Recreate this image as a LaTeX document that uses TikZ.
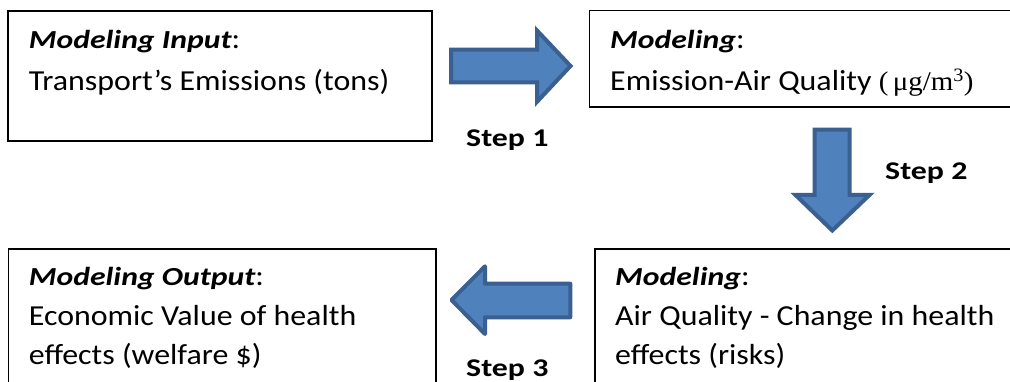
\documentclass[tikz,border=0pt]{standalone}
\usepackage{fontspec}
\setmainfont{Carlito}[FakeStretch=1.1]
\newfontfamily\headfont{Carlito}[FakeStretch=1.22]
\newfontfamily\stepfont{Carlito}[FakeStretch=1.25]
\newfontfamily\unitfont{Liberation Serif}[FakeStretch=1.07]
\newcommand{\headtext}[1]{{\headfont\fontsize{26}{31}\selectfont\bfseries\itshape #1}:}
\begin{document}
\begin{tikzpicture}[x=1pt,y=-1pt,
  box/.style={draw=black,line width=1.6pt,rectangle,anchor=north west,inner sep=0pt,outer sep=0pt},
  txt/.style={anchor=base west,inner sep=0pt,font=\fontsize{29}{34}\selectfont},
  steplabel/.style={anchor=base west,inner sep=0pt,font=\stepfont\fontsize{25.5}{29}\selectfont\bfseries},
  blockarrow/.style={fill=arrowfill,draw=arrowline,line width=4pt}]
\definecolor{arrowfill}{HTML}{4F81BD}
\definecolor{arrowline}{HTML}{3A6091}
\useasboundingbox (0,0) rectangle (1010,382);
\clip (0,0) rectangle (1010,382);
% boxes
\node[box,minimum width=424pt,minimum height=130pt] (b1) at (8,11) {};
\node[box,minimum width=432pt,minimum height=96.6pt] (b2) at (589.3,10.7) {};
\node[box,minimum width=430pt,minimum height=150pt] (b3) at (595,249.3) {};
\node[box,minimum width=427.6pt,minimum height=150pt] (b4) at (8.4,249.3) {};
% texts
\node[txt] (t1a) at (28.7,49) {\headtext{Modeling Input}};
\node[txt] (t1b) at (28.7,90.5) {Transport’s Emissions (tons)};
\node[txt] (t2a) at (610,49) {\headtext{Modeling}};
\node[txt] (t2b) at (610,90.5) {Emission-Air Quality {\unitfont\fontsize{27}{32}\selectfont(\,μg/m\textsuperscript{3})}};
\node[txt] (t3a) at (615,286) {\headtext{Modeling}};
\node[txt] (t3b) at (615,326) {Air Quality - Change in health};
\node[txt] (t3c) at (615,364) {effects (risks)};
\node[txt] (t4a) at (28.7,285.5) {\headtext{Modeling Output}};
\node[txt] (t4b) at (28.7,326) {Economic Value of health};
\node[txt] (t4c) at (28.7,364) {effects (welfare \$)};
% step labels
\node[steplabel] (s1) at (466,146.7) {Step 1};
\node[steplabel] (s2) at (885,180) {Step 2};
\node[steplabel] (s3) at (466,376.7) {Step 3};
% block arrows
\draw[blockarrow] (451,49.7) -- (537,49.7) -- (537,30.5) -- (570.5,66) -- (537,101.8) -- (537,82.3) -- (451,82.3) -- cycle;
\draw[blockarrow] (814.7,129.7) -- (849.7,129.7) -- (849.7,195) -- (869.5,195) -- (832.3,230.5) -- (795.5,195) -- (814.7,195) -- cycle;
\draw[blockarrow,line join=round] (570.3,283.7) -- (485,283.7) -- (485,266.3) -- (451.5,300) -- (485,334) -- (485,317.3) -- (570.3,317.3) -- cycle;
\end{tikzpicture}
\end{document}
